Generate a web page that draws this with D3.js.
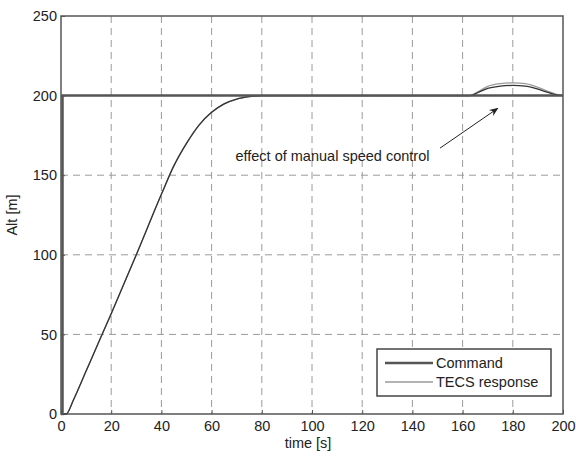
<!DOCTYPE html>
<html>
<head>
<meta charset="utf-8">
<script src="https://cdn.jsdelivr.net/npm/d3@7"></script>
<style>
  body { margin: 0; background: #fff; }
  text { font-family: "Liberation Sans", Arial, sans-serif; }
</style>
</head>
<body>
<svg id="chart" width="576" height="456"></svg>
<script>
// tick labels
const xTicks = [0, 20, 40, 60, 80, 100, 120, 140, 160, 180, 200];
const yTicks = [0, 50, 100, 150, 200, 250];

// Command: step to 200 m right at the start
const commandTime = [0, 0.6, 0.6, 200];
const commandAlt = [0, 0, 200, 200];

// TECS response (two runs, they differ only in the speed-control bump)
const respTime = [0, 2, 5, 10, 15, 20, 30, 40, 45, 50, 55, 60, 65, 70, 75, 80, 100, 120, 140, 160,
  163, 166, 170, 175, 180, 185, 190, 194, 197, 200];
const respAltA = [0, 0, 9, 27, 45, 63, 100, 138, 156, 170, 181.5, 189.5, 194.8, 197.8, 199.3, 200, 200, 200, 200, 200,
  200, 201.8, 204.5, 205.9, 206.4, 205.9, 204, 202, 200.6, 200];
const respAltB = [0, 0, 9, 27, 45, 63, 100, 138, 156, 170, 181.5, 189.5, 194.8, 197.8, 199.3, 200, 200, 200, 200, 200,
  200, 202.3, 205.8, 207.5, 208, 207.5, 205.2, 202.6, 201, 200];

const svg = d3.select('#chart');
const margin = { left: 61, right: 13, top: 16, bottom: 42 };
const width = 576 - margin.left - margin.right;
const height = 456 - margin.top - margin.bottom;
const fontSize = 14.5;

const x = d3.scaleLinear().domain([0, 200]).range([0, width]);
const y = d3.scaleLinear().domain([0, 250]).range([height, 0]);

const g = svg.append('g').attr('transform', `translate(${margin.left},${margin.top})`);

// grid
g.append('g').selectAll('line').data(xTicks.slice(1, -1)).join('line')
  .attr('x1', (d) => x(d)).attr('x2', (d) => x(d))
  .attr('y1', 0).attr('y2', height)
  .attr('stroke', '#9a9a9a').attr('stroke-dasharray', '7,5').attr('stroke-width', 1);
g.append('g').selectAll('line').data(yTicks.slice(1, -1)).join('line')
  .attr('y1', (d) => y(d)).attr('y2', (d) => y(d))
  .attr('x1', 0).attr('x2', width)
  .attr('stroke', '#9a9a9a').attr('stroke-dasharray', '7,5').attr('stroke-width', 1);

// axes
const xAxis = g.append('g').attr('transform', `translate(0,${height})`)
  .call(d3.axisBottom(x).tickValues(xTicks).tickSize(-4).tickPadding(7));
const yAxis = g.append('g')
  .call(d3.axisLeft(y).tickValues(yTicks).tickSize(-4).tickPadding(4));
[xAxis, yAxis].forEach((a) => {
  a.select('.domain').remove();
  a.selectAll('line').attr('stroke', '#555');
  a.selectAll('text').attr('font-size', fontSize).attr('fill', '#222');
});
g.append('rect').attr('width', width).attr('height', height)
  .attr('fill', 'none').attr('stroke', '#555').attr('stroke-width', 1.5);

// lines
const line = (ts, vs) => d3.line().curve(d3.curveMonotoneX)
  .x((d, i) => x(ts[i])).y((d) => y(d))(vs);

g.append('path').attr('d', line(respTime, respAltB))
  .attr('fill', 'none').attr('stroke', '#9a9a9a').attr('stroke-width', 1.3);
g.append('path').attr('d', line(respTime, respAltA))
  .attr('fill', 'none').attr('stroke', '#333').attr('stroke-width', 1.3);
g.append('path').attr('d', d3.line().x((d, i) => x(commandTime[i])).y((d) => y(d))(commandAlt))
  .attr('fill', 'none').attr('stroke', '#555').attr('stroke-width', 2.5);

// annotation
g.append('text').attr('x', x(69.5)).attr('y', y(159))
  .attr('font-size', fontSize).attr('fill', '#222')
  .text('effect of manual speed control');
svg.append('defs').append('marker')
  .attr('id', 'arrow').attr('viewBox', '0 0 10 10')
  .attr('refX', 9).attr('refY', 5).attr('markerWidth', 9).attr('markerHeight', 9)
  .attr('orient', 'auto')
  .append('path').attr('d', 'M0,1 L10,5 L0,9 L3,5 Z').attr('fill', '#222');
g.append('line')
  .attr('x1', x(151)).attr('y1', y(167)).attr('x2', x(174)).attr('y2', y(192))
  .attr('stroke', '#222').attr('stroke-width', 1)
  .attr('marker-end', 'url(#arrow)');

// axis titles
svg.append('text').attr('x', 308).attr('y', 448).attr('text-anchor', 'middle')
  .attr('font-size', fontSize).attr('fill', '#222').text('time [s]');
svg.append('text').attr('transform', 'translate(17,215) rotate(-90)')
  .attr('text-anchor', 'middle').attr('font-size', fontSize).attr('fill', '#222').text('Alt [m]');

// legend
const lg = svg.append('g').attr('transform', 'translate(377,349)');
lg.append('rect').attr('width', 174).attr('height', 47)
  .attr('fill', '#fff').attr('stroke', '#444').attr('stroke-width', 1.5);
const legendItems = [['Command', '#555', 2.5], ['TECS response', '#9a9a9a', 1.3]];
legendItems.forEach(([label, color, w], i) => {
  const yy = 14 + i * 19;
  lg.append('line').attr('x1', 8).attr('x2', 56).attr('y1', yy).attr('y2', yy)
    .attr('stroke', color).attr('stroke-width', w);
  lg.append('text').attr('x', 59).attr('y', yy + 5)
    .attr('font-size', fontSize).attr('fill', '#222').text(label);
});
</script>
</body>
</html>
